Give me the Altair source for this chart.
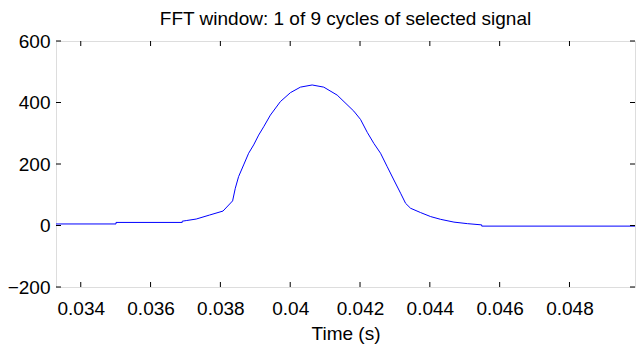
import altair as alt
import pandas as pd

# Signal samples (time in s, amplitude)
time_s = [0.033291, 0.03501, 0.03501, 0.036907, 0.036907, 0.037021, 0.037308,
          0.03769, 0.038075, 0.03835, 0.038427, 0.038522, 0.038666, 0.038809,
          0.038953, 0.039096, 0.03924, 0.039432, 0.039719, 0.040006, 0.040293,
          0.040628, 0.040961, 0.041346, 0.041822, 0.042014, 0.042207, 0.042396,
          0.042588, 0.04278, 0.04297, 0.043162, 0.043306, 0.043449, 0.043736,
          0.044023, 0.04431, 0.044691, 0.045076, 0.045486, 0.045486, 0.049877]
amplitude = [5, 5, 10, 10, 14, 16, 21,
             34, 47, 80, 121, 159, 197, 235,
             262, 294, 321, 359, 403, 432, 450,
             457, 450, 424, 372, 345, 303, 267,
             235, 191, 148, 105, 72, 56, 42,
             29, 20, 11, 6, 2, -2, -2]

x_ticks = [0.034, 0.036, 0.038, 0.040, 0.042, 0.044, 0.046, 0.048]
y_ticks = [-200, 0, 200, 400, 600]
x_domain = [0.033291, 0.049877]
y_domain = [-200, 600]

W, H = 579, 246
FONT = "Liberation Sans"

df = pd.DataFrame({"t": time_s, "v": amplitude})
xt = pd.DataFrame({"t": x_ticks})
yt = pd.DataFrame({"v": y_ticks})

xscale = alt.Scale(domain=x_domain, nice=False, zero=False)
yscale = alt.Scale(domain=y_domain, nice=False, zero=False)

line = alt.Chart(df).mark_line(color="#0000FF", strokeWidth=1).encode(
    x=alt.X("t:Q", scale=xscale,
            axis=alt.Axis(title="Time (s)", values=x_ticks, ticks=False, domain=False,
                          grid=False, labelFontSize=19, titleFontSize=19,
                          labelFont=FONT, titleFont=FONT, labelColor="black",
                          titleColor="black", titleFontWeight="normal",
                          labelPadding=12, titlePadding=6,
                          labelExpr="format(datum.value, '.3~f')")),
    y=alt.Y("v:Q", scale=yscale,
            axis=alt.Axis(title=None, values=y_ticks, ticks=False, domain=False,
                          grid=False, labelFontSize=19, labelFont=FONT,
                          labelColor="black", labelPadding=6)),
)

tick_len = 5
bottom_ticks = alt.Chart(xt).mark_rule(color="black", strokeWidth=1).encode(
    x=alt.X("t:Q", scale=xscale), y=alt.value(H), y2=alt.value(H - tick_len))
top_ticks = alt.Chart(xt).mark_rule(color="black", strokeWidth=1).encode(
    x=alt.X("t:Q", scale=xscale), y=alt.value(0), y2=alt.value(tick_len))
left_ticks = alt.Chart(yt).mark_rule(color="black", strokeWidth=1).encode(
    y=alt.Y("v:Q", scale=yscale), x=alt.value(0), x2=alt.value(tick_len))
right_ticks = alt.Chart(yt).mark_rule(color="black", strokeWidth=1).encode(
    y=alt.Y("v:Q", scale=yscale), x=alt.value(W), x2=alt.value(W - tick_len))

chart = alt.layer(line, bottom_ticks, top_ticks, left_ticks, right_ticks).properties(
    width=W, height=H,
    autosize=alt.AutoSizeParams(type="none"),
    padding={"left": 56, "top": 41, "right": 1, "bottom": 63},
    title=alt.TitleParams("FFT window: 1 of 9 cycles of selected signal",
                          font=FONT, fontSize=19, fontWeight="normal",
                          color="black", anchor="middle", frame="group",
                          baseline="bottom", offset=6, dy=22),
).configure_view(stroke="black", strokeWidth=1.5).configure(background="white")

chart.save("out.html", embed_options={"renderer": "svg", "actions": False})
